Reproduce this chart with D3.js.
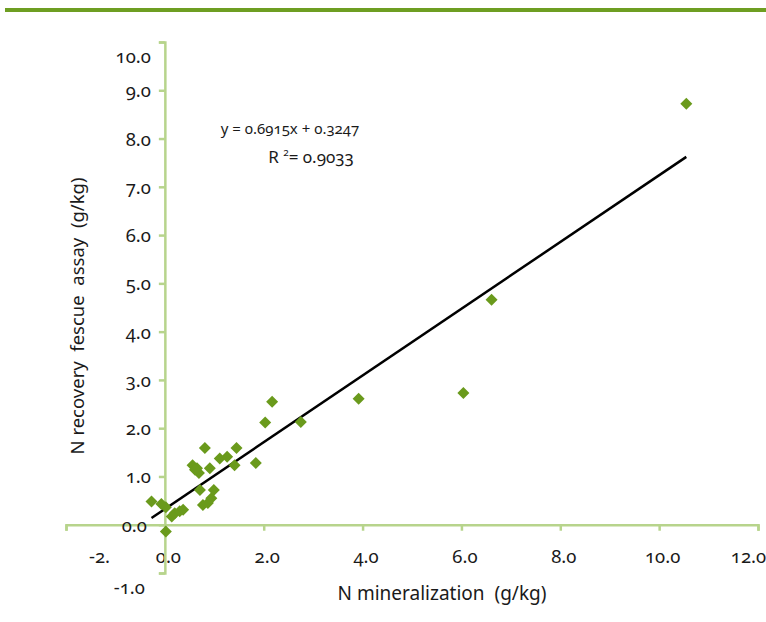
<!DOCTYPE html>
<html>
<head>
<meta charset="utf-8">
<script src="https://cdn.jsdelivr.net/npm/d3@7"></script>
<style>
  body { margin: 0; background: #fff; }
  svg { display: block; }
  svg text { font-family: "Noto Sans", sans-serif; font-variant-numeric: oldstyle-nums; }
  .axis path, .axis line { stroke: #b7d48c; stroke-width: 2.5; }
  .axis text { fill: #1a1a1a; font-size: 18.5px; }
</style>
</head>
<body>
<svg id="chart" width="766" height="622"></svg>
<script>
// N mineralization (g/kg)
const mineralization = [
  -0.27, -0.07, 0.02, 0.02, 0.14, 0.20, 0.30, 0.37, 0.56, 0.65, 0.69, 0.61,
  0.81, 0.91, 0.71, 0.77, 0.87, 0.94, 0.99, 1.11, 1.26, 1.41, 1.45, 1.84,
  2.03, 2.17, 2.75, 3.92, 6.04, 6.61, 10.55
];
// N recovery fescue assay (g/kg)
const recovery = [
  0.48, 0.43, 0.36, -0.14, 0.17, 0.24, 0.28, 0.31, 1.23, 1.17, 1.07, 1.14,
  1.59, 1.17, 0.72, 0.41, 0.45, 0.55, 0.72, 1.37, 1.41, 1.23, 1.59, 1.28,
  2.12, 2.55, 2.13, 2.61, 2.73, 4.66, 8.72
];
const xTicks = [-2, 0, 2, 4, 6, 8, 10, 12];
const yTicks = [-1, 0, 1, 2, 3, 4, 5, 6, 7, 8, 9, 10];
const slope = 0.6915, intercept = 0.3247, rSquared = 0.9033;

const points = mineralization.map((x, i) => ({ x, y: recovery[i] }));

const svg = d3.select("#chart");
const green = "#6a9a1c";
const fmt = d => d3.format(".1f")(d).replace("\u2212", "-");

// top band
svg.append("rect").attr("x", 5).attr("y", 8).attr("width", 761).attr("height", 4).attr("fill", "#6e9e22");

const x = d3.scaleLinear().domain([-2, 12]).range([66, 758]);
const y = d3.scaleLinear().domain([-1, 10]).range([573, 42]);

// x axis along y = 0
const xAxis = svg.append("g")
  .attr("class", "axis")
  .attr("transform", `translate(0,${y(0)})`)
  .call(d3.axisBottom(x).tickValues(xTicks).tickSizeOuter(0).tickSize(6).tickPadding(19)
    .tickFormat(d => d === -2 ? "-2." : fmt(d)));
xAxis.selectAll(".tick text").attr("dx", d => d === -2 ? 33 : d === 12 ? -10 : 3);

// y axis along x = 0
const yAxis = svg.append("g")
  .attr("class", "axis")
  .attr("transform", `translate(${x(0)},0)`)
  .call(d3.axisLeft(y).tickValues(yTicks).tickSizeOuter(0).tickSize(6).tickPadding(8)
    .tickFormat(fmt));
yAxis.selectAll(".tick text")
  .attr("dy", d => d === 10 || d === -1 ? "1.1em" : "0.35em")
  .attr("dx", d => d === -1 ? -6 : d === 0 ? -4 : 0);

// trend line over the data range
const xExt = d3.extent(mineralization);
svg.append("line")
  .attr("x1", x(xExt[0])).attr("y1", y(slope * xExt[0] + intercept))
  .attr("x2", x(xExt[1])).attr("y2", y(slope * xExt[1] + intercept))
  .attr("stroke", "#000").attr("stroke-width", 2.5);

// markers
svg.append("g").selectAll("path")
  .data(points)
  .join("path")
  .attr("d", d3.symbol(d3.symbolSquare, 72))
  .attr("transform", d => `translate(${x(d.x)},${y(d.y)}) rotate(45)`)
  .attr("fill", green);

// equation
const eq = svg.append("text").attr("x", 290).attr("y", 134).attr("text-anchor", "middle")
  .attr("font-size", 15).attr("fill", "#1a1a1a");
eq.text(`y = ${slope}x + ${intercept}`);
const r2 = svg.append("text").attr("x", 311).attr("y", 163).attr("text-anchor", "middle")
  .attr("font-size", 17).attr("fill", "#1a1a1a");
r2.append("tspan").text("R ");
r2.append("tspan").attr("font-size", 10).attr("dy", -7).text("2");
r2.append("tspan").attr("dy", 7).text(`= ${rSquared}`);

// axis titles
svg.append("text").attr("x", 442).attr("y", 600).attr("text-anchor", "middle")
  .attr("font-size", 19).attr("fill", "#1a1a1a")
  .attr("xml:space", "preserve").text("N mineralization  (g/kg)");
svg.append("text").attr("transform", "translate(84,316) rotate(-90)").attr("text-anchor", "middle")
  .attr("font-size", 18.5).attr("fill", "#1a1a1a")
  .attr("xml:space", "preserve").text("N recovery  fescue  assay  (g/kg)");
</script>
</body>
</html>
